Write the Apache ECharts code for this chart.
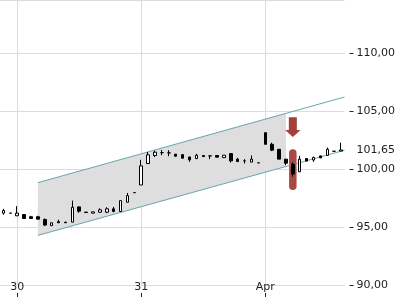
<!DOCTYPE html>
<html><head><meta charset="utf-8">
<script src="https://cdn.jsdelivr.net/npm/echarts@6/dist/echarts.min.js"></script>
<style>html,body{margin:0;padding:0;background:#fff}#c{width:400px;height:300px}</style>
</head><body><div id="c"></div>
<script>
// categories: trading slots (day/slot)
const days = [['29', 17, 18], ['30', 1, 18], ['31', 1, 18], ['Apr', 1, 12]];
const categories = [];
days.forEach(function (d) { for (let s = d[1]; s <= d[2]; s++) categories.push(d[0] + '/' + s); });

// axis tick labels (first slot of each day)
const tickLabels = ['30', '31', 'Apr'];
const tickIndices = [2, 20, 38];
const yTicks = [90, 95, 100, 105, 110];
const lastPrice = 101.65;

// candles [open, close, low, high]
const candles = [
  [96.20, 96.43, 96.06, 96.57], [96.20, 96.20, 96.20, 96.20], [95.97, 96.20, 95.97, 96.80], [96.08, 95.74, 95.74, 96.08],
  [95.89, 95.74, 95.74, 95.97], [95.89, 95.68, 95.68, 95.97], [95.66, 95.17, 95.08, 95.74], [95.12, 95.37, 95.12, 95.37],
  [95.46, 95.37, 95.37, 95.63], [95.42, 95.37, 95.37, 95.45], [95.42, 96.71, 95.42, 97.28], [96.74, 96.37, 96.23, 96.74],
  [96.29, 96.25, 96.25, 96.29], [96.20, 96.31, 96.20, 96.31], [96.28, 96.49, 96.23, 96.62], [96.28, 96.57, 96.20, 96.71],
  [96.57, 96.34, 96.28, 96.74], [96.34, 97.28, 96.34, 97.28], [97.14, 97.71, 97.14, 97.94], [97.97, 97.97, 97.97, 97.97],
  [98.63, 100.28, 98.63, 100.80], [100.48, 101.23, 100.48, 101.48], [101.17, 101.46, 101.05, 101.59], [101.42, 101.42, 101.20, 101.65],
  [101.40, 101.40, 101.11, 101.63], [101.29, 101.11, 101.11, 101.29], [101.25, 100.94, 100.94, 101.25], [101.05, 100.80, 100.63, 101.05],
  [100.91, 101.20, 100.86, 101.31], [101.17, 101.08, 101.08, 101.17], [101.14, 101.14, 100.86, 101.14], [101.17, 101.03, 101.03, 101.17],
  [100.99, 101.20, 100.99, 101.20], [101.34, 100.71, 100.57, 101.34], [100.86, 100.65, 100.65, 100.97], [100.71, 100.71, 100.48, 100.86],
  [100.60, 100.86, 100.60, 101.18], [100.54, 100.54, 100.54, 100.54], [103.14, 102.14, 102.14, 103.14], [102.14, 101.63, 101.55, 102.28],
  [101.71, 100.86, 100.86, 101.71], [100.86, 100.51, 100.34, 100.86], [100.43, 99.57, 99.34, 100.57], [99.77, 100.86, 99.77, 101.14],
  [100.91, 100.69, 100.69, 100.91], [100.78, 101.00, 100.63, 101.08], [101.14, 100.97, 100.97, 101.14], [101.18, 101.71, 101.18, 101.85],
  [101.54, 101.54, 101.54, 101.54], [101.55, 101.65, 101.55, 102.28]
];

// trend channel (x = slot index)
const channelUpper = [[5, 98.83], [49.5, 106.22]];
const channelLower = [[5, 94.28], [49.5, 101.63]];
const shadeX = [5, 41];
const shadeTop = [98.83, 104.81];
const shadeBottom = [94.28, 100.22];

// signal marks
const signalBar = [[42, 101.71, 98.20]];
const signalArrow = [[42, 104.48, 102.77]];

const FONT = 'DejaVu Sans';
const RED = '#a53f3a';
const TEAL = '#66a7ad';
const isTick = function (i) { return tickIndices.indexOf(i) >= 0; };

const chart = echarts.init(document.getElementById('c'), null, { renderer: 'canvas' });
chart.setOption({
  animation: false,
  backgroundColor: '#fff',
  grid: { left: 0, right: 55.5, top: -2, bottom: 15 },
  xAxis: [{
    type: 'category', data: categories, boundaryGap: true, position: 'bottom', offset: 8,
    axisLine: { show: false, onZero: false },
    axisTick: { show: true, alignWithLabel: true, interval: isTick, length: 4, lineStyle: { color: '#222' } },
    axisLabel: {
      inside: true, interval: isTick, margin: 0, fontSize: 11, fontFamily: FONT, color: '#222',
      formatter: function (v, i) { const k = tickIndices.indexOf(i); return k >= 0 ? tickLabels[k] : ''; }
    },
    splitLine: { show: true, alignWithLabel: true, interval: isTick, lineStyle: { color: '#dcdcdc', width: 1 } }
  }, {
    type: 'value', min: -0.5, max: 49.5, show: false,
    axisLine: { show: false, onZero: false }, axisTick: { show: false }, axisLabel: { show: false }, splitLine: { show: false }
  }],
  yAxis: {
    type: 'value', position: 'right', offset: 5, min: 90, max: 114.59, interval: 5,
    axisLine: { show: false, onZero: false },
    axisTick: { show: true, length: 4, lineStyle: { color: '#222' } },
    axisLabel: {
      margin: 7, fontSize: 11, fontFamily: FONT, color: '#222', showMaxLabel: false,
      formatter: function (v) { return yTicks.indexOf(v) >= 0 ? v.toFixed(2).replace('.', ',') : ''; }
    },
    splitLine: { show: true, lineStyle: { color: '#dcdcdc', width: 1 } }
  },
  series: [{
    type: 'custom', xAxisIndex: 1, z: 1, silent: true,
    data: [[shadeX[0], shadeTop[0]]],
    renderItem: function (params, api) {
      const pts = [];
      for (let i = 0; i < shadeX.length; i++) pts.push(api.coord([shadeX[i], shadeTop[i]]));
      for (let i = shadeX.length - 1; i >= 0; i--) pts.push(api.coord([shadeX[i], shadeBottom[i]]));
      return { type: 'polygon', shape: { points: pts }, style: { fill: '#dedede' } };
    }
  }, {
    type: 'line', xAxisIndex: 1, data: channelUpper, symbol: 'none', silent: true, z: 3,
    lineStyle: { color: TEAL, width: 1 }
  }, {
    type: 'line', xAxisIndex: 1, data: channelLower, symbol: 'none', silent: true, z: 3,
    lineStyle: { color: TEAL, width: 1 }
  }, {
    type: 'custom', xAxisIndex: 1, z: 2, silent: true, data: signalBar,
    renderItem: function (params, api) {
      const a = api.coord([api.value(0), api.value(1)]);
      const b = api.coord([api.value(0), api.value(2)]);
      return { type: 'rect', shape: { x: a[0] - 3.75, y: a[1], width: 7.5, height: b[1] - a[1], r: 3.75 },
        style: { fill: RED, opacity: 0.95 } };
    }
  }, {
    type: 'candlestick', xAxisIndex: 0, data: candles, z: 4, barWidth: 3,
    itemStyle: { color: '#fff', color0: '#000', borderColor: '#000', borderColor0: '#000', borderWidth: 1 },
    markLine: {
      silent: true, symbol: 'none', animation: false,
      data: [{ yAxis: lastPrice }],
      lineStyle: { color: 'rgba(0,0,0,0)', width: 0 },
      label: { position: 'end', distance: 12, fontSize: 11, fontFamily: FONT, color: '#222',
        formatter: function () { return lastPrice.toFixed(2).replace('.', ','); } }
    }
  }, {
    type: 'custom', xAxisIndex: 1, z: 5, silent: true, data: signalArrow,
    renderItem: function (params, api) {
      const t = api.coord([api.value(0), api.value(1)]);
      const p = api.coord([api.value(0), api.value(2)]);
      const x = t[0], n = p[1] - 7;
      return { type: 'polygon', shape: { points: [[x - 4, t[1]], [x + 4, t[1]], [x + 4, n], [x + 7.75, n], [x, p[1]], [x - 7.75, n], [x - 4, n]] },
        style: { fill: RED } };
    }
  }]
});
</script></body></html>
